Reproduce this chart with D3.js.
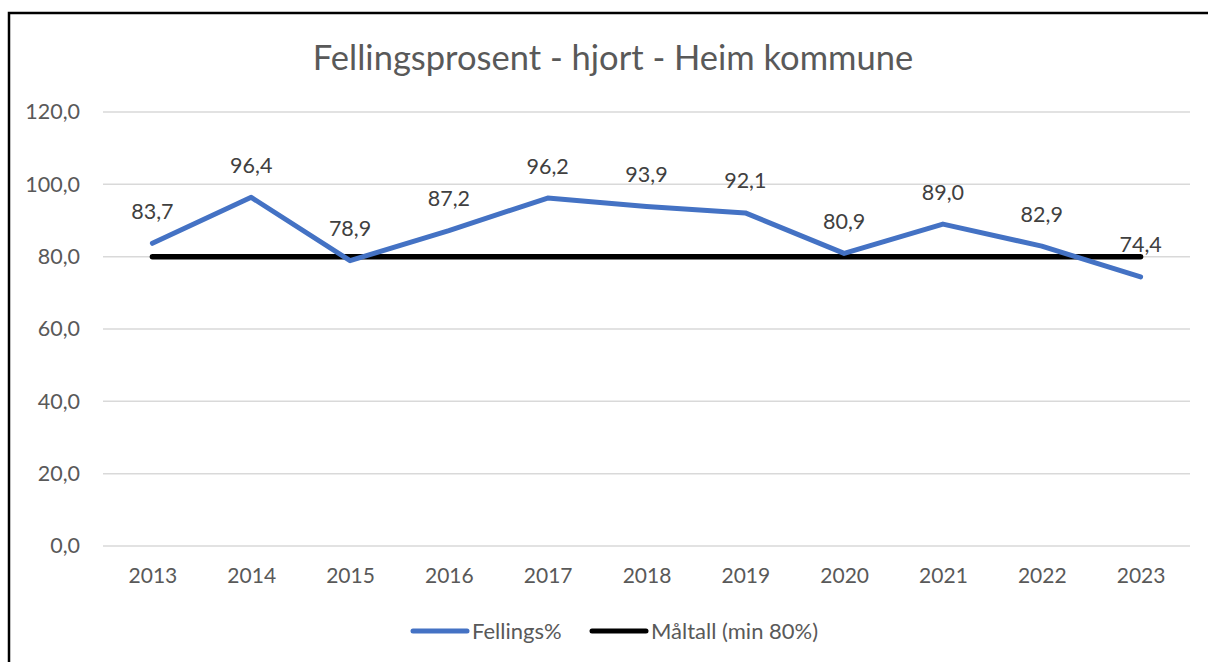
<!DOCTYPE html>
<html>
<head>
<meta charset="utf-8">
<script src="https://cdn.jsdelivr.net/npm/d3@7"></script>
<style>
  body { margin: 0; background: #fff; }
  svg { display: block; font-family: Lato, "Open Sans", sans-serif; }
</style>
</head>
<body>
<div id="chart"></div>
<script>
// --- data ---
const years = ["2013", "2014", "2015", "2016", "2017", "2018", "2019", "2020", "2021", "2022", "2023"];
const fellings = [83.7, 96.4, 78.9, 87.2, 96.2, 93.9, 92.1, 80.9, 89.0, 82.9, 74.4];
const maltall = [80, 80, 80, 80, 80, 80, 80, 80, 80, 80, 80];
const yTicks = [0, 20, 40, 60, 80, 100, 120];

const width = 1208, height = 662;
const svg = d3.select("#chart").append("svg").attr("width", width).attr("height", height);

// frame (only left and top edges are visible in the crop)
svg.append("path").attr("d", "M9,662V13H1208").attr("fill", "none").attr("stroke", "#000").attr("stroke-width", 2.5);

const x = d3.scalePoint().domain(years).range([103, 1190]).padding(0.5);
const y = d3.scaleLinear().domain([0, 120]).range([546, 112]);
const fmt = v => d3.format(".1f")(v).replace(".", ",");

// title
svg.append("text").attr("x", 613).attr("y", 70).attr("text-anchor", "middle")
  .attr("fill", "#595959").style("font-size", "34.5px")
  .text("Fellingsprosent - hjort - Heim kommune");

// gridlines
svg.append("g").selectAll("line").data(yTicks).join("line")
  .attr("x1", 103).attr("x2", 1190)
  .attr("y1", d => y(d)).attr("y2", d => y(d))
  .attr("stroke", "#d9d9d9").attr("stroke-width", 1.5);

// y axis labels
const yAxis = svg.append("g").attr("transform", "translate(80,0)")
  .call(d3.axisLeft(y).tickValues(yTicks).tickFormat(fmt).tickSize(0).tickPadding(0));
yAxis.select(".domain").remove();
yAxis.selectAll("text").attr("fill", "#595959").style("font-size", "21.5px").style("font-family", "Lato, 'Open Sans', sans-serif");

// x axis labels
const xAxis = svg.append("g").attr("transform", "translate(0,568)")
  .call(d3.axisBottom(x).tickSize(0).tickPadding(0));
xAxis.select(".domain").remove();
xAxis.selectAll("text").attr("fill", "#595959").style("font-size", "21px").style("font-family", "Lato, 'Open Sans', sans-serif");

const line = d3.line().x((d, i) => x(years[i])).y(d => y(d));

// target line
svg.append("path").datum(maltall).attr("d", line)
  .attr("fill", "none").attr("stroke", "#000").attr("stroke-width", 5.5).attr("stroke-linecap", "round");

// fellings line
svg.append("path").datum(fellings).attr("d", line)
  .attr("fill", "none").attr("stroke", "#4472c4").attr("stroke-width", 5).attr("stroke-linejoin", "round").attr("stroke-linecap", "round");

// data labels
svg.append("g").selectAll("text").data(fellings).join("text")
  .attr("x", (d, i) => x(years[i]))
  .attr("y", d => y(d) - 32)
  .attr("dy", "0.35em")
  .attr("text-anchor", "middle")
  .attr("fill", "#404040").style("font-size", "21.5px")
  .text(fmt);

// legend
const legendItems = [
  { label: "Fellings%", color: "#4472c4", x0: 413 },
  { label: "Måltall (min 80%)", color: "#000", x0: 592 }
];
const lg = svg.append("g").selectAll("g").data(legendItems).join("g")
  .attr("transform", d => `translate(${d.x0},631)`);
lg.append("line").attr("x1", 0).attr("x2", 54).attr("y1", 0).attr("y2", 0)
  .attr("stroke", d => d.color).attr("stroke-width", 5).attr("stroke-linecap", "round");
lg.append("text").attr("x", 59).attr("dy", "0.35em").attr("fill", "#595959")
  .style("font-size", "22px").text(d => d.label);
</script>
</body>
</html>
